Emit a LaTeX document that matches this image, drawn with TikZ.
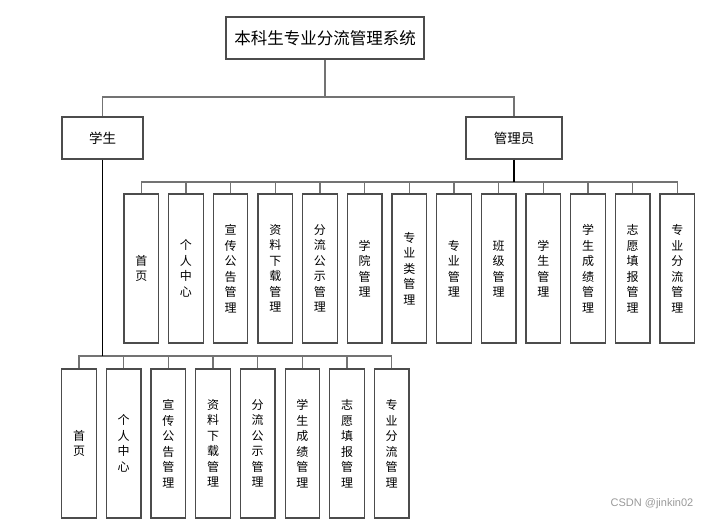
\documentclass[tikz,border=0pt]{standalone}
\usepackage{fontspec}
\newfontfamily\cjk{Noto Sans CJK SC}
\setsansfont{Liberation Sans}
\usetikzlibrary{calc,positioning}

\tikzset{
  box/.style={draw=black!70, line width=1.2pt, fill=white, inner sep=0pt, align=center},
  func/.style={box, minimum width=34.5pt, minimum height=149pt, font=\cjk\fontsize{12}{15.5}\selectfont},
  conn/.style={draw=black!55, line width=1.3pt},
  trunk/.style={draw=black, line width=1.8pt},
}

\begin{document}
\begin{tikzpicture}[x=1pt,y=-1pt]
  \useasboundingbox (0,0) rectangle (716,522);

  \node [box, minimum width=198pt, minimum height=42pt, font=\cjk\fontsize{16.5}{18}\selectfont] at (325,38) (sys) {本科生专业分流管理系统};
  \node [box, minimum width=81pt, minimum height=42pt, font=\cjk\fontsize{13.5}{15}\selectfont] at (102.5,138) (stu) {学生};
  \node [box, minimum width=96pt, minimum height=42pt, font=\cjk\fontsize{13.5}{15}\selectfont] at (514,138) (adm) {管理员};

  \coordinate (top_bus) at (325,97);
  \path [conn] (sys.south) edge (top_bus);
  \draw [conn] (stu.north) |- (top_bus) -| (adm.north);

  \coordinate (adm_bus) at (514,182);
  \coordinate (stu_bus) at (102.5,356);

  \foreach \t [count=\i from 0] in {{首\\页},{个\\人\\中\\心},{宣\\传\\公\\告\\管\\理},{资\\料\\下\\载\\管\\理},
      {分\\流\\公\\示\\管\\理},{学\\院\\管\\理},{专\\业\\类\\管\\理},{专\\业\\管\\理},{班\\级\\管\\理},
      {学\\生\\管\\理},{学\\生\\成\\绩\\管\\理},{志\\愿\\填\\报\\管\\理},{专\\业\\分\\流\\管\\理}}
  {
    \node [func] at ($(141.3,268.5)+(44.67*\i,0)$) (adm_fn_\i) {\t};
    \draw [conn] (adm_fn_\i.north) |- (adm_bus);
  }
  \path [trunk] (adm.south) edge (adm_bus);

  \foreach \t [count=\j from 0] in {{首\\页},{个\\人\\中\\心},{宣\\传\\公\\告\\管\\理},{资\\料\\下\\载\\管\\理},
      {分\\流\\公\\示\\管\\理},{学\\生\\成\\绩\\管\\理},{志\\愿\\填\\报\\管\\理},{专\\业\\分\\流\\管\\理}}
  {
    \node [func] at ($(79,443.5)+(44.67*\j,0)$) (stu_fn_\j) {\t};
    \draw [conn] (stu_fn_\j.north) |- (stu_bus);
  }
  \path [trunk] (stu.south) edge (stu_bus);
%  \draw [trunk] (stu_bus) -- (stu_fn_7.north |- stu_bus);

  \node [font=\sffamily\fontsize{11}{13}\selectfont, text=black!40] at (652,504) (mark) {CSDN @jinkin02};

\end{tikzpicture}
\end{document}
